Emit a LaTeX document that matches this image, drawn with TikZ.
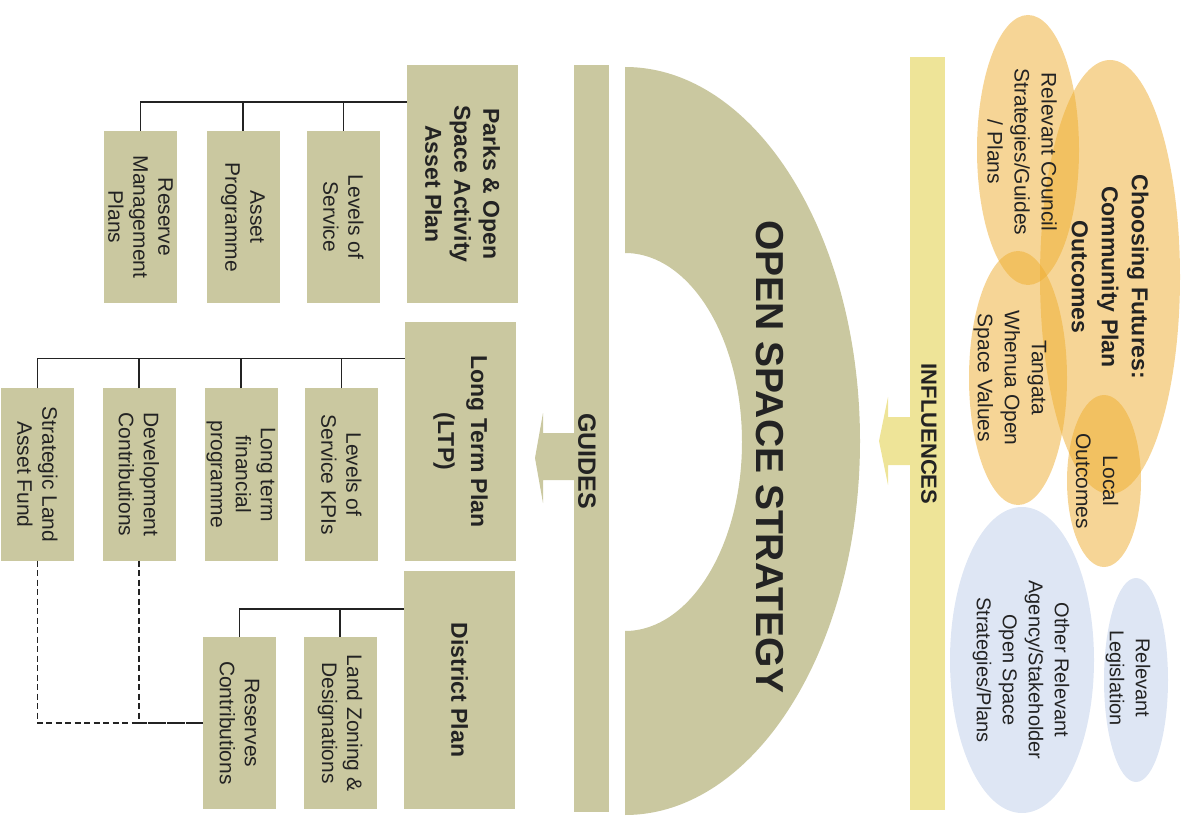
\documentclass[tikz,border=0pt]{standalone}
\usepackage{fontspec}
\setmainfont{Liberation Sans}
\usepackage{xcolor}
\usepackage{tikz}
\usetikzlibrary{positioning}
\definecolor{khaki}{RGB}{202,200,160}
\definecolor{paleyellow}{RGB}{238,228,152}
\definecolor{ochre}{RGB}{238,172,45}
\definecolor{paleblue}{RGB}{222,230,244}
\definecolor{ink}{RGB}{35,35,35}
\tikzset{
    planbox/.style={rectangle, fill=khaki, rotate=-90, inner sep=0pt, align=center, text=ink,
        font=\fontsize{23}{29}\selectfont\bfseries, minimum width=238pt, minimum height=111pt},
    subbox/.style={rectangle, fill=khaki, rotate=-90, inner sep=0pt, align=center, text=ink,
        font=\fontsize{21}{25}\selectfont, minimum width=172pt, minimum height=73pt},
    ovaltext/.style={rotate=-90, inner sep=0pt, align=center, text=ink, font=\fontsize{21}{27}\selectfont},
    barlabel/.style={rotate=-90, inner sep=0pt, text=ink},
    treeline/.style={draw=ink, line width=1.5pt},
}

\begin{document}
\begin{tikzpicture}[x=1pt, y=-1pt]
    \useasboundingbox (0,0) rectangle (1192,818);

    % influences
    \begin{scope}[fill opacity=0.5]
        \fill[ochre] (1110,277) ellipse[x radius=70pt, y radius=217pt];
        \fill[ochre] (1028,150) ellipse[x radius=51pt, y radius=135pt];
        \fill[ochre] (1018,378) ellipse[x radius=49pt, y radius=127pt];
        \fill[ochre] (1104,481) ellipse[x radius=37pt, y radius=86pt];
    \end{scope}
    \fill[paleblue] (1022,660) ellipse[x radius=72pt, y radius=153pt];
    \fill[paleblue] (1136,680) ellipse[x radius=32pt, y radius=102pt];
    \node[ovaltext, font=\fontsize{23}{30}\selectfont\bfseries] (futures) at (1110,277)
        {Choosing Futures:\\ Community Plan\\ Outcomes};
    \node[ovaltext] (council) at (1022,152) {Relevant Council\\ Strategies/Guides\\ / Plans};
    \node[ovaltext] (tangata) at (1010,378) {Tangata\\ Whenua Open\\ Space Values};
    \node[ovaltext] (local) at (1097,481) {Local\\ Outcomes};
    \node[ovaltext, font=\fontsize{20}{26}\selectfont] (agency) at (1021,670)
        {Other Relevant\\ Agency/Stakeholder\\ Open Space\\ Strategies/Plans};
    \node[ovaltext, font=\fontsize{20}{26}\selectfont] (legislation) at (1128,678) {Relevant\\ Legislation};

    \fill[paleyellow] (910,57) rectangle (945,810);
    \fill[paleyellow] (910,417) -- (888,417) -- (888,397) -- (879,441) -- (888,485) -- (888,465) -- (910,465) -- cycle;
    \node[barlabel, font=\fontsize{22}{26}\selectfont\bfseries] (influences) at (929,434) {INFLUENCES};

    % strategy
    \fill[khaki] (625,67) arc[start angle=90, end angle=-90, x radius=235pt, y radius=374pt]
        -- (625,631) arc[start angle=-90, end angle=90, x radius=117pt, y radius=189pt] -- cycle;
    \node[barlabel, font=\fontsize{39}{44}\selectfont\bfseries] (strategy) at (770,457) {OPEN SPACE STRATEGY};

    % guides
    \fill[khaki] (574,65) rectangle (609,812);
    \fill[khaki] (574,433) -- (543,433) -- (543,413) -- (535,458) -- (543,503) -- (543,480) -- (574,480) -- cycle;
    \node[barlabel, font=\fontsize{25}{30}\selectfont\bfseries] (guides) at (587,461) {GUIDES};

    % plans
    \node[planbox] (parks) at (462.5,184) {Parks \& Open\\ Space Activity\\ Asset Plan};
    \node[subbox] (los) at (343.5,217) {Levels of\\ Service};
    \node[subbox] (ap) at (243,217) {Asset\\ Programme};
    \node[subbox] (rmp) at (140.5,217) {Reserve\\ Management\\ Plans};

    \node[planbox, font=\fontsize{23}{33}\selectfont\bfseries] (ltp) at (460.5,441.5) {Long Term Plan\\ (LTP)};
    \node[subbox] (kpi) at (341.5,474.5) {Levels of\\ Service KPIs};
    \node[subbox] (ltfp) at (241,474.5) {Long term\\ financial\\ programme};
    \node[subbox] (dc) at (139,474.5) {Development\\ Contributions};
    \node[subbox] (slaf) at (37.5,474.5) {Strategic Land\\ Asset Fund};

    \node[planbox] (dp) at (459.5,690) {District Plan};
    \node[subbox] (lzd) at (340,723) {Land Zoning \&\\ Designations};
    \node[subbox] (rc) at (239.5,723) {Reserves\\ Contributions};

    \coordinate (pbus) at ([yshift=-37pt]parks.south west);
    \coordinate (lbus) at ([yshift=-36pt]ltp.south west);
    \coordinate (dbus) at ([yshift=-38pt]dp.south west);
    \foreach \c in {los, ap, rmp} \draw[treeline] (\c.west) |- (pbus);
    \foreach \c in {kpi, ltfp, dc, slaf} \draw[treeline] (\c.west) |- (lbus);
    \foreach \c in {lzd, rc} \draw[treeline] (\c.west) |- (dbus);
    \draw[treeline, dash pattern=on 6pt off 3.5pt] (slaf.east) |- (rc.south);
    \draw[treeline, dash pattern=on 6pt off 3.5pt] (dc.east) |- (rc.south);
\end{tikzpicture}
\end{document}
